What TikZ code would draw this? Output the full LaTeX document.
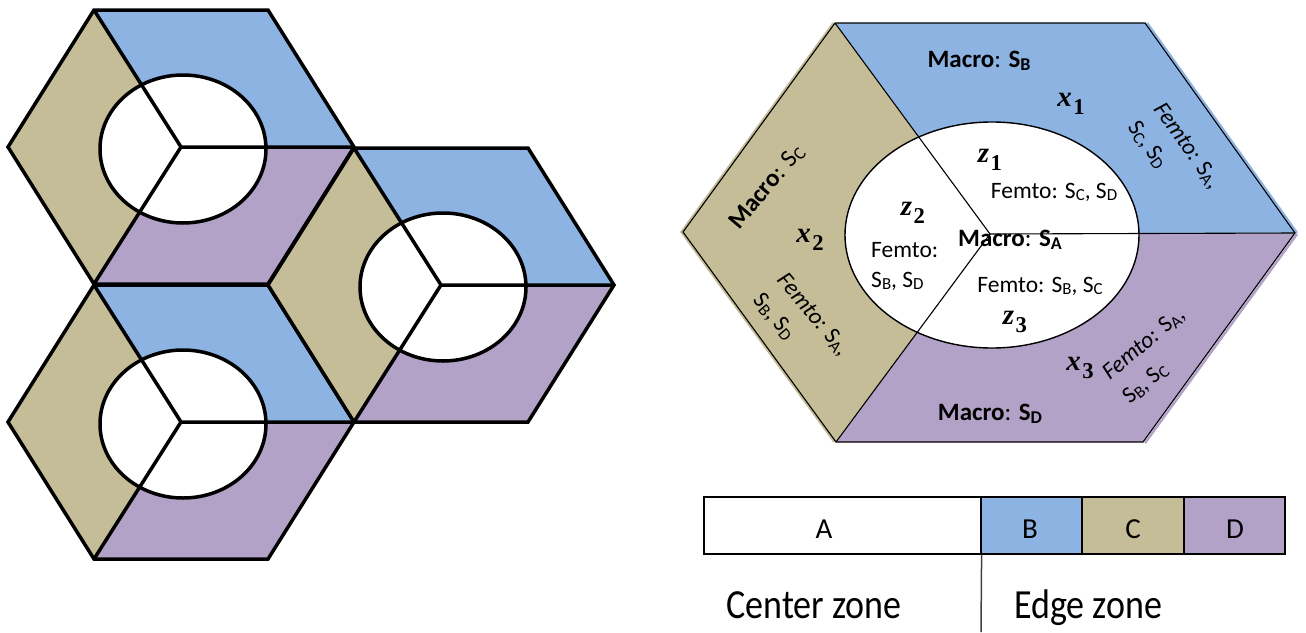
\documentclass[tikz,border=0pt]{standalone}
\usepackage[no-math]{fontspec}
\setmainfont{Carlito}
\newfontfamily\varfont{Liberation Serif}
\usepackage{graphicx}
\definecolor{hexblue}{HTML}{8DB3E2}
\definecolor{hextan}{HTML}{C4BD97}
\definecolor{hexpurple}{HTML}{B2A2C7}
\newcommand{\Sx}[1]{S\raisebox{-0.12em}{\scalebox{0.72}{#1}}}
\newcommand{\bSx}[1]{\textbf{S\raisebox{-0.12em}{\scalebox{0.72}{#1}}}}
\newcommand{\vv}[2]{{\varfont\bfseries\itshape #1}\kern0.05em\raisebox{-0.28em}{\scalebox{0.78}{\varfont\bfseries #2}}}
\tikzset{
  thick hex/.style={line width=3.5pt, line join=miter},
  thin line/.style={line width=1.1pt},
  femto/.style={font=\fontsize{23.5}{31}\selectfont, inner sep=0pt},
  macro/.style={font=\fontsize{25}{30}\selectfont, inner sep=0pt},
  var/.style={font=\fontsize{29}{32}\selectfont, inner sep=0pt},
  cellbox/.style={draw, line width=1.2pt, minimum height=57pt, inner sep=0pt},
  barlbl/.style={font=\fontsize{29}{32}\selectfont, inner sep=0pt, anchor=base},
  zonelbl/.style={font=\fontsize{36}{40}\selectfont, inner sep=0pt, anchor=base, yscale=1.15},
  smallhex/.pic={
    \fill[hexblue] (-87,-137) -- (87,-137) -- (173,0) -- (0,0) -- cycle;
    \fill[hextan] (-173,0) -- (-87,-137) -- (0,0) -- (-87,137) -- cycle;
    \fill[hexpurple] (0,0) -- (173,0) -- (87,137) -- (-87,137) -- cycle;
    \filldraw[fill=white, draw=black, line width=3.5pt] (2,2) ellipse [x radius=83pt, y radius=74pt];
    \draw[thick hex] (-87,-137) -- (0,0) -- (173,0) (0,0) -- (-87,137);
    \draw[thick hex] (-87,-137) -- (87,-137) -- (173,0) -- (87,137) -- (-87,137) -- (-173,0) -- cycle;
  }
}
\begin{document}
\begin{tikzpicture}[x=1pt,y=-1pt]
\useasboundingbox (0,0) rectangle (1306,632);

% left cluster
\pic at (181,147) {smallhex};
\pic at (181,422) {smallhex};
\pic at (441,285) {smallhex};

% big hexagon
\coordinate (TL) at (835,23);
\coordinate (TR) at (1145,23);
\coordinate (R) at (1295,233);
\coordinate (BR) at (1143,442);
\coordinate (BL) at (836,442);
\coordinate (L) at (683,232);
\coordinate (C) at (990,234);
% soft coloured rim
\draw[hexblue, line width=2.5pt] ([xshift=2pt]TR) -- ([xshift=2pt]R);
\draw[hexpurple, line width=2.5pt] ([xshift=2pt,yshift=-1pt]R) -- ([xshift=2pt,yshift=-1pt]BR);
\draw[hextan, line width=2.5pt] ([xshift=-1.5pt]BL) -- ([xshift=-1.5pt]L) -- ([xshift=-1.5pt]TL);
\fill[hexblue] (TL) -- (TR) -- (R) -- (C) -- cycle;
\fill[hextan] (L) -- (TL) -- (C) -- (BL) -- cycle;
\fill[hexpurple] (C) -- (R) -- (BR) -- (BL) -- cycle;
\filldraw[fill=white, draw=black, line width=1.4pt] (992,235) ellipse [x radius=147pt, y radius=113pt];
\draw[thin line] (TL) -- (C) -- (R) (C) -- (BL);
\draw[thin line, line join=miter] (TL) -- (TR) -- (R) -- (BR) -- (BL) -- (L) -- cycle;

% labels in big hexagon
\node[macro, anchor=base] (mB) at (979,67) {\textbf{Macro}: \bSx{B}};
\node[var] (x1) at (1071,104) {\vv{x}{1}};
\node[femto, align=left, rotate=-54.5] (fB) at (1174,155) {\textit{Femto:} \Sx{A},\\\Sx{C}, \Sx{D}};

\node[macro, rotate=50] (mC) at (767,187) {\textbf{Macro}: \Sx{C}};
\node[var] (x2) at (810,240) {\vv{x}{2}};
\node[femto, align=left, rotate=-50] (fC) at (801,325) {\textit{Femto:} \Sx{A},\\\Sx{B}, \Sx{D}};

\node[macro, anchor=base] (mD) at (990,420) {\textbf{Macro}: \bSx{D}};
\node[var] (x3) at (1080,368) {\vv{x}{3}};
\node[femto, align=left, rotate=40] (fD) at (1154,356) {\textit{Femto:} \Sx{A},\\\Sx{B}, \Sx{C}};

\node[var] (z1) at (990,160) {\vv{z}{1}};
\node[femto, anchor=base] (f1) at (1054,198) {Femto: \Sx{C}, \Sx{D}};
\node[var] (z2) at (913,213) {\vv{z}{2}};
\node[femto, anchor=base west] (f2a) at (871,257) {Femto:};
\node[femto, anchor=base west] (f2b) at (871,287) {\Sx{B}, \Sx{D}};
\node[macro, anchor=base] (mA) at (1010,246) {\textbf{Macro}: \bSx{A}};
\node[femto, anchor=base] (f3) at (1040,292) {Femto: \Sx{B}, \Sx{C}};
\node[var] (z3) at (1015,322) {\vv{z}{3}};

% legend bar
\node[cellbox, minimum width=277pt] (cellA) at (842.5,525.5) {};
\node[cellbox, fill=hexblue, minimum width=101pt] (cellB) at (1031.5,525.5) {};
\node[cellbox, fill=hextan, minimum width=102pt] (cellC) at (1133,525.5) {};
\node[cellbox, fill=hexpurple, minimum width=101pt] (cellD) at (1234.5,525.5) {};
\node[barlbl] (lA) at (824,538) {A};
\node[barlbl] (lB) at (1030,538) {B};
\node[barlbl] (lC) at (1133,538) {C};
\node[barlbl] (lD) at (1235,538) {D};

\coordinate (divtop) at (cellA.south east);
\coordinate (divbot) at (981,632);
\draw[line width=1.5pt, black!75] (divtop) -- (divbot);
\node[zonelbl] (cz) at (814,618) {Center zone};
\node[zonelbl] (ez) at (1088,618) {Edge zone};
\end{tikzpicture}
\end{document}
